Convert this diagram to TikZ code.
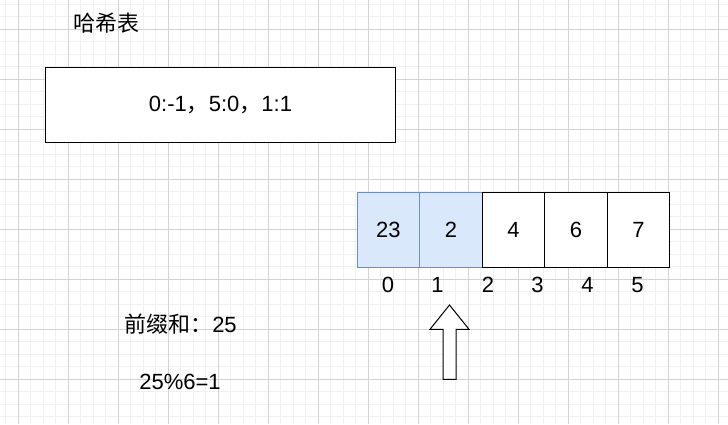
\documentclass[tikz,border=0pt]{standalone}
\usepackage{fontspec}
\setmainfont{Liberation Sans}
\newfontfamily\cjk{Noto Sans CJK SC}
\definecolor{minorgrid}{HTML}{F0F0F0}
\definecolor{majorgrid}{HTML}{D3D3D3}
\definecolor{bluefill}{HTML}{DAE8FC}
\definecolor{bluedraw}{HTML}{6C8EBF}
\tikzset{
  txt/.style={font=\fontsize{22}{26}\selectfont, inner sep=0pt},
  cell/.style={draw=black, line width=1pt, minimum width=62.5pt, minimum height=75pt, inner sep=0pt, anchor=north west, font=\fontsize{22}{26}\selectfont},
  bcell/.style={cell, fill=bluefill, draw=bluedraw},
}
\begin{document}
\begin{tikzpicture}[x=1pt,y=-1pt]
\useasboundingbox (0,0) rectangle (728,424);
\fill[white] (0,0) rectangle (728,424);
% grid
\foreach \i in {-1,...,58} {
  \draw[minorgrid, line width=1pt] ({18+12.5*\i},0) -- ({18+12.5*\i},424);
}
\foreach \i in {-2,...,33} {
  \draw[minorgrid, line width=1pt] (0,{29.3+12.5*\i}) -- (728,{29.3+12.5*\i});
}
\foreach \i in {0,...,14} {
  \draw[majorgrid, line width=1pt] ({18+50*\i},0) -- ({18+50*\i},424);
}
\foreach \i in {0,...,7} {
  \draw[majorgrid, line width=1pt] (0,{29.3+50*\i}) -- (728,{29.3+50*\i});
}
% title
\node[txt] (title) at (106.5,23) {\cjk 哈希表};
% hash table box
\node[draw=black, line width=1pt, fill=white, minimum width=350pt, minimum height=75pt, inner sep=0pt, anchor=north west, font=\fontsize{22}{26}\selectfont] (hash) at (45,67) {0:-1{\cjk ，}5:0{\cjk ，}1:1};
% array cells
\node[bcell] (c0) at (356.7,192.3) {23};
\node[bcell] (c1) at (419.2,192.3) {2};
\node[cell, fill=white] (c2) at (481.7,192.3) {4};
\node[cell, fill=white] (c3) at (544.2,192.3) {6};
\node[cell, fill=white] (c4) at (606.7,192.3) {7};
% indices
\node[txt] (i0) at (388,285) {0};
\node[txt] (i1) at (437.5,285) {1};
\node[txt] (i2) at (488,285) {2};
\node[txt] (i3) at (537.5,285) {3};
\node[txt] (i4) at (587.5,285) {4};
\node[txt] (i5) at (637.5,285) {5};
% block arrow
\draw[black, line width=1pt, fill=white, line join=miter]
  (449.5,305) -- (469,329.3) -- (456.2,329.3) -- (456.2,379.3) -- (443,379.3) -- (443,329.3) -- (430,329.3) -- cycle;
% texts
\node[txt] (prefix) at (180.5,324) {{\cjk 前缀和：}25};
\node[txt] (mod) at (180,382) {25\%6=1};
\end{tikzpicture}
\end{document}
